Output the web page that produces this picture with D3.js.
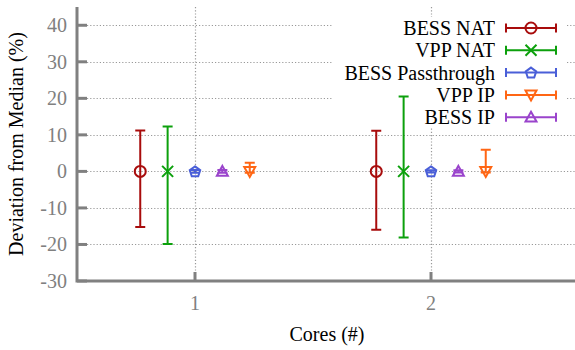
<!DOCTYPE html>
<html>
<head>
<meta charset="utf-8">
<script src="https://cdn.jsdelivr.net/npm/d3@7"></script>
<style>
  body { margin: 0; background: #fff; }
</style>
</head>
<body>
<svg id="chart" width="575" height="350"></svg>
<script>
// data
const cores = [1, 2];
const seriesNames = ["BESS NAT", "VPP NAT", "BESS Passthrough", "VPP IP", "BESS IP"];
const seriesColors = ["#a80c0c", "#0ca00c", "#4a5fd8", "#ff6614", "#9a44cc"];
const seriesMarkers = ["circle", "cross", "pentagon", "triDown", "triUp"];
// slot within a core group (left to right)
const seriesSlot = [-2, -1, 0, 2, 1];
const medians = [[0, 0], [0, 0], [0, 0], [0, 0], [0, 0]];
const upper = [[11.2, 11.1], [12.3, 20.5], [0.4, 0.3], [2.4, 5.9], [0.4, 0.3]];
const lower = [[-15.2, -16.0], [-19.9, -18.1], [-0.4, -0.3], [-0.4, -0.3], [-0.4, -0.3]];
const yTicks = [-30, -20, -10, 0, 10, 20, 30, 40];

const serif = "Liberation Serif";
const svg = d3.select("#chart");
const pLeft = 77, pBottom = 281, pTop = 7, pRight = 575;

const x = d3.scaleLinear().domain([1, 2]).range([195, 431]);
const y = d3.scaleLinear().domain([-30, 45]).range([pBottom, pTop]);
const slotW = 0.116;

// grid
const grid = svg.append("g")
  .attr("stroke", "#999")
  .attr("stroke-width", 1.2)
  .attr("stroke-dasharray", "1.2,2");
grid.selectAll(".hg")
  .data(yTicks.filter(d => d > -30))
  .join("line")
  .attr("x1", pLeft + 10).attr("x2", pRight)
  .attr("y1", d => Math.round(y(d)) + 0.5).attr("y2", d => Math.round(y(d)) + 0.5);
grid.selectAll(".vg")
  .data(cores)
  .join("line")
  .attr("x1", d => Math.round(x(d)) + 0.5).attr("x2", d => Math.round(x(d)) + 0.5)
  .attr("y1", pTop).attr("y2", pBottom - 8);

// legend background hides the grid under the key
svg.append("rect")
  .attr("x", 333).attr("y", 17).attr("width", 232).attr("height", 111)
  .attr("fill", "#fff");

// axes
const axisColor = "#808080";
svg.append("path")
  .attr("d", `M${pLeft},${pTop} V${pBottom} H${pRight}`)
  .attr("fill", "none")
  .attr("stroke", axisColor)
  .attr("stroke-width", 3);
svg.selectAll(".ytick")
  .data(yTicks)
  .join("line")
  .attr("x1", pLeft).attr("x2", pLeft + 10)
  .attr("y1", d => y(d)).attr("y2", d => y(d))
  .attr("stroke", axisColor).attr("stroke-width", 3);
svg.selectAll(".ylab")
  .data(yTicks)
  .join("text")
  .attr("x", pLeft - 10)
  .attr("y", d => y(d) + 7)
  .attr("text-anchor", "end")
  .attr("font-family", serif)
  .attr("font-size", 20)
  .attr("fill", axisColor)
  .text(d => d);
svg.selectAll(".xtick")
  .data(cores)
  .join("line")
  .attr("x1", d => x(d)).attr("x2", d => x(d))
  .attr("y1", pBottom).attr("y2", pBottom - 9)
  .attr("stroke", axisColor).attr("stroke-width", 3);
svg.selectAll(".xlab")
  .data(cores)
  .join("text")
  .attr("x", d => x(d))
  .attr("y", pBottom + 29)
  .attr("text-anchor", "middle")
  .attr("font-family", serif)
  .attr("font-size", 20)
  .attr("fill", axisColor)
  .text(d => d);

svg.append("text")
  .attr("x", 327).attr("y", 341)
  .attr("text-anchor", "middle")
  .attr("font-family", serif)
  .attr("font-size", 20)
  .text("Cores (#)");
svg.append("text")
  .attr("transform", "translate(23,144) rotate(-90)")
  .attr("text-anchor", "middle")
  .attr("font-family", serif)
  .attr("font-size", 20)
  .text("Deviation from Median (%)");

// marker shapes
function marker(g, type, cx, cy, color) {
  const s = 5.5;
  let el;
  if (type === "circle") {
    el = g.append("circle").attr("cx", cx).attr("cy", cy).attr("r", s);
  } else if (type === "cross") {
    el = g.append("path").attr("d", `M${cx - s},${cy - s}L${cx + s},${cy + s}M${cx - s},${cy + s}L${cx + s},${cy - s}`);
  } else if (type === "pentagon") {
    const pts = d3.range(5).map(i => {
      const a = -Math.PI / 2 + i * 2 * Math.PI / 5;
      return [cx + s * Math.cos(a), cy + s * Math.sin(a) + 0.5];
    });
    el = g.append("path").attr("d", "M" + pts.join("L") + "Z");
  } else if (type === "triUp") {
    el = g.append("path").attr("d", `M${cx},${cy - s}L${cx + s},${cy + s * 0.8}L${cx - s},${cy + s * 0.8}Z`);
  } else {
    el = g.append("path").attr("d", `M${cx},${cy + s}L${cx + s},${cy - s * 0.8}L${cx - s},${cy - s * 0.8}Z`);
  }
  el.attr("fill", "none").attr("stroke", color).attr("stroke-width", 2);
}

// error bars
seriesNames.forEach((name, si) => {
  const g = svg.append("g");
  const col = seriesColors[si];
  cores.forEach((c, ci) => {
    const cx = x(c + seriesSlot[si] * slotW);
    const yt = y(upper[si][ci]), yb = y(lower[si][ci]);
    g.append("path")
      .attr("d", `M${cx},${yt}V${yb}M${cx - 5},${yt}H${cx + 5}M${cx - 5},${yb}H${cx + 5}`)
      .attr("fill", "none").attr("stroke", col).attr("stroke-width", 2);
    marker(g, seriesMarkers[si], cx, y(medians[si][ci]), col);
  });
});

// legend entries
const leg = svg.append("g");
seriesNames.forEach((name, i) => {
  const ly = 28 + i * 22.3;
  leg.append("text")
    .attr("x", 495).attr("y", ly + 7)
    .attr("text-anchor", "end")
    .attr("font-family", serif)
    .attr("font-size", 20)
    .text(name);
  leg.append("path")
    .attr("d", `M506,${ly}H556M506,${ly - 4.5}V${ly + 4.5}M556,${ly - 4.5}V${ly + 4.5}`)
    .attr("fill", "none").attr("stroke", seriesColors[i]).attr("stroke-width", 2);
  marker(leg, seriesMarkers[i], 531, ly, seriesColors[i]);
});
</script>
</body>
</html>
